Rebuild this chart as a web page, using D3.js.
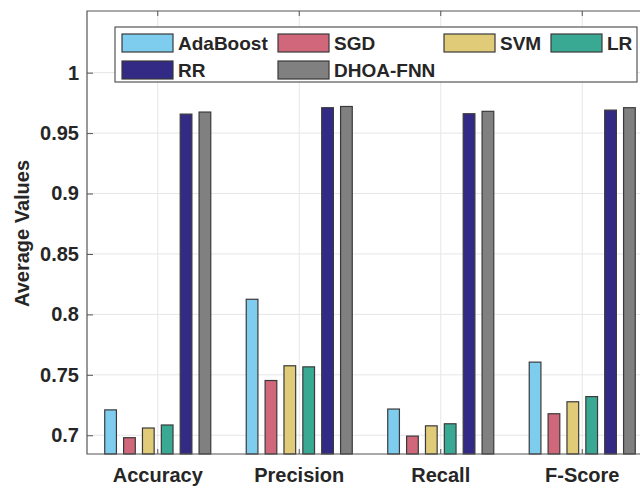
<!DOCTYPE html>
<html>
<head>
<meta charset="utf-8">
<script src="https://cdn.jsdelivr.net/npm/d3@7"></script>
<style>
	body { margin: 0; background: #fff; }
	text { font-family: "Liberation Sans", Arial, sans-serif; font-weight: bold; fill: #262626; }
</style>
</head>
<body>
<div id="chart"></div>
<script>
const metrics = ["Accuracy", "Precision", "Recall", "F-Score"];
const models = ["AdaBoost", "SGD", "SVM", "LR", "RR", "DHOA-FNN"];
const modelColors = ["#7fcdee", "#d0677a", "#dfcb78", "#3aa994", "#332a86", "#808080"];
// one array per model, values in metric order
const adaBoost = [0.721, 0.8125, 0.7217, 0.7605];
const sgd      = [0.698, 0.7453, 0.6993, 0.7178];
const svm      = [0.706, 0.7575, 0.7078, 0.7277];
const lr       = [0.7085, 0.7566, 0.7095, 0.732];
const rr       = [0.9657, 0.971, 0.966, 0.969];
const dhoaFnn  = [0.9674, 0.972, 0.968, 0.971];
const yTicks = [0.7, 0.75, 0.8, 0.85, 0.9, 0.95, 1];

const seriesValues = [adaBoost, sgd, svm, lr, rr, dhoaFnn];
const rows = [];
metrics.forEach((m, i) => {
	models.forEach((s, j) => rows.push({metric: m, model: s, value: seriesValues[j][i]}));
});

const width = 640, height = 491;
const plot = {left: 87, right: 653, top: 11, bottom: 454};

const svg = d3.select("#chart").append("svg")
	.attr("width", width)
	.attr("height", height);

const x0 = d3.scaleBand()
	.domain(metrics)
	.range([plot.left, plot.right])
	.paddingInner(0.2)
	.paddingOuter(0.1);

const x1 = d3.scaleBand()
	.domain(models)
	.range([0, x0.bandwidth()])
	.paddingInner(0.38)
	.paddingOuter(0.19);

const y = d3.scaleLinear()
	.domain([0.6845, 1.051])
	.range([plot.bottom, plot.top]);

const color = d3.scaleOrdinal().domain(models).range(modelColors);

//grid
const grid = svg.append("g");
grid.selectAll(".hg").data(yTicks).enter().append("line")
	.attr("x1", plot.left).attr("x2", plot.right)
	.attr("y1", d => y(d)).attr("y2", d => y(d))
	.attr("stroke", "#e6e6e6").attr("stroke-width", 1);
grid.selectAll(".vg").data(metrics).enter().append("line")
	.attr("x1", d => x0(d) + x0.bandwidth() / 2).attr("x2", d => x0(d) + x0.bandwidth() / 2)
	.attr("y1", plot.top).attr("y2", plot.bottom)
	.attr("stroke", "#e6e6e6").attr("stroke-width", 1);

//bars
svg.append("g")
	.selectAll("rect")
	.data(rows)
	.enter()
	.append("rect")
	.attr("x", d => x0(d.metric) + x1(d.model))
	.attr("y", d => y(d.value))
	.attr("width", x1.bandwidth())
	.attr("height", d => y.range()[0] - y(d.value))
	.attr("fill", d => color(d.model))
	.attr("stroke", "#3a3a3a")
	.attr("stroke-width", 1.2);

//axis box
svg.append("path")
	.attr("d", `M${plot.right},${plot.top}H${plot.left}V${plot.bottom}H${plot.right}`)
	.attr("fill", "none")
	.attr("stroke", "#555")
	.attr("stroke-width", 1.2);

//Y axis
const yAxis = d3.axisLeft(y)
	.tickValues(yTicks)
	.tickFormat(d => d3.format("")(+d.toFixed(2)))
	.tickSize(-6)
	.tickPadding(8);
const yg = svg.append("g")
	.attr("transform", `translate(${plot.left},0)`)
	.call(yAxis);
yg.select(".domain").remove();
yg.selectAll(".tick line").attr("stroke", "#555");
yg.selectAll(".tick text")
	.style("font-size", "20px")
	.attr("fill", "#262626");

//X axis
const xAxis = d3.axisBottom(x0).tickSize(-5).tickPadding(14);
const xg = svg.append("g")
	.attr("transform", `translate(0,${plot.bottom})`)
	.call(xAxis);
xg.select(".domain").remove();
xg.selectAll(".tick line").attr("stroke", "#555");
xg.selectAll(".tick text")
	.style("font-size", "20px")
	.attr("fill", "#262626");

//top ticks
svg.append("g").selectAll("line").data(metrics).enter().append("line")
	.attr("x1", d => x0(d) + x0.bandwidth() / 2).attr("x2", d => x0(d) + x0.bandwidth() / 2)
	.attr("y1", plot.top).attr("y2", plot.top + 5)
	.attr("stroke", "#555");

//Y label
svg.append("text")
	.attr("transform", `translate(29,${(plot.top + plot.bottom) / 2 + 1}) rotate(-90)`)
	.attr("text-anchor", "middle")
	.style("font-size", "20px")
	.text("Average Values");

//legend
const legend = svg.append("g").attr("transform", "translate(115,27)");
legend.append("rect")
	.attr("x", 0).attr("y", 0)
	.attr("width", 522).attr("height", 55)
	.attr("fill", "#fff")
	.attr("stroke", "#555")
	.attr("stroke-width", 1.2);
const legendPos = [[7, 7], [163, 7], [329, 7], [436, 7], [7, 34], [163, 34]];
const items = legend.selectAll(".item").data(models).enter().append("g")
	.attr("transform", (d, i) => `translate(${legendPos[i][0]},${legendPos[i][1]})`);
items.append("rect")
	.attr("width", 51).attr("height", 18)
	.attr("fill", d => color(d))
	.attr("stroke", "#3a3a3a")
	.attr("stroke-width", 1.2);
items.append("text")
	.attr("x", 56).attr("y", 16)
	.style("font-size", "19px")
	.text(d => d);
</script>
</body>
</html>
